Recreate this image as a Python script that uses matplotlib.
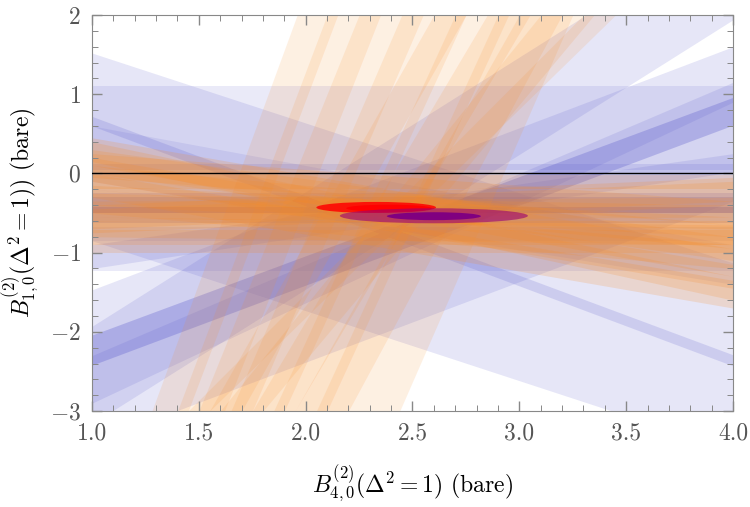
import matplotlib
matplotlib.use("Agg")
import matplotlib.pyplot as plt
from matplotlib.patches import Ellipse
import numpy as np

plt.rcParams['font.family'] = 'serif'
plt.rcParams['font.serif'] = ['cmr10', 'DejaVu Serif']
plt.rcParams['mathtext.fontset'] = 'cm'
plt.rcParams['axes.formatter.use_mathtext'] = True

# band edges at x = 1 and x = 4: (lower@1, upper@1, lower@4, upper@4)
blueBands = [
    (-1.23, 1.10, -1.23, 1.10),
    (-0.50, -0.43, -0.50, -0.43),
    (0.60, 0.72, -2.43, -2.29),
    (-0.85, 1.52, -3.50, -1.13),
    (-3.40, -1.47, -0.35, 1.60),
    (-3.16, -1.93, 1.94, 3.17),
    (-2.42, -2.04, 0.61, 0.96),
    (-2.90, -2.30, 0.90, 1.15),
    (-0.10, 0.60, -1.40, -0.90),
    (-1.20, -0.90, 0.02, 0.25),
    (-0.62, -0.30, -0.62, -0.30),
    (-0.42, -0.25, -0.42, -0.25),
    (0.04, 0.12, 0.04, 0.12),
    (-0.85, -0.68, -0.85, -0.68),
]
blueAlpha = [0.12, 0.5, 0.18, 0.15, 0.15, 0.15, 0.3, 0.15, 0.12, 0.15, 0.25, 0.2, 0.15, 0.12]

orangeBands = [
    (0.10, 0.45, -1.30, -0.95),
    (0.00, 0.30, -1.10, -0.80),
    (-0.10, 0.20, -1.45, -1.15),
    (-0.20, 0.10, -0.95, -0.65),
    (-0.30, 0.00, -1.70, -1.35),
    (-0.40, -0.15, -0.80, -0.55),
    (-0.55, -0.25, -0.70, -0.40),
    (-0.60, -0.35, -0.55, -0.30),
    (-0.75, -0.45, -0.40, -0.10),
    (-0.50, -0.20, -1.20, -0.90),
    (-0.70, -0.40, -0.35, -0.05),
    (-0.05, 0.25, -0.65, -0.35),
    (-0.80, -0.55, -0.90, -0.65),
    (0.15, 0.40, -1.60, -1.30),
    (-1.00, -0.72, -1.00, -0.72),
    (-0.20, -0.02, -0.20, -0.02),
    (-0.90, -0.60, -0.90, -0.60),
]

# steep bands, edges given as x at y = -3 and x at y = 2: (lower@-3, upper@-3, lower@2, upper@2)
steepBands = [
    (1.28, 1.45, 1.96, 2.15),
    (1.40, 1.62, 2.10, 2.35),
    (1.50, 1.75, 2.25, 2.55),
    (1.55, 1.70, 2.60, 2.75),
    (1.65, 1.90, 2.45, 2.75),
    (1.75, 1.95, 2.85, 3.05),
    (1.85, 2.10, 2.70, 2.95),
    (1.95, 2.20, 3.00, 3.20),
    (2.05, 2.44, 2.90, 3.25),
    (1.60, 1.80, 3.10, 3.35),
    (1.45, 1.55, 3.30, 3.45),
]

# fit ellipses: center x, center y, half width, half height
redFit = [(2.33, -0.43, 0.28, 0.07), (2.39, -0.44, 0.20, 0.045)]
purpleFit = [(2.60, -0.535, 0.44, 0.095), (2.60, -0.54, 0.22, 0.05)]

blue = (0.35, 0.35, 0.80)
orange = (0.97, 0.55, 0.15)

fig = plt.figure(figsize=(7.5, 5.07), dpi=100)
ax = fig.add_axes([0.1227, 0.1893, 0.8546, 0.7811])

xEnds = [1.0, 4.0]
yEnds = [-3.0, 2.0]
for band, a in zip(blueBands, blueAlpha):
    ax.fill_between(xEnds, [band[0], band[2]], [band[1], band[3]], color=blue, alpha=a, lw=0)

for band in steepBands:
    ax.fill_betweenx(yEnds, [band[0], band[2]], [band[1], band[3]], color=orange, alpha=0.13, lw=0)

for band in orangeBands:
    ax.fill_between(xEnds, [band[0], band[2]], [band[1], band[3]], color=orange, alpha=0.19, lw=0)

ax.axhline(0, color='black', lw=1.0, zorder=5)

for (cx, cy, w, h), a in zip(redFit, [0.85, 1.0]):
    ax.add_patch(Ellipse((cx, cy), 2 * w, 2 * h, color=(1.0, 0.0, 0.0), alpha=a, lw=0, zorder=6))
ax.add_patch(Ellipse((purpleFit[0][0], purpleFit[0][1]), 2 * purpleFit[0][2], 2 * purpleFit[0][3],
                     color=(0.6, 0.0, 0.45), alpha=0.6, lw=0, zorder=7))
ax.add_patch(Ellipse((purpleFit[1][0], purpleFit[1][1]), 2 * purpleFit[1][2], 2 * purpleFit[1][3],
                     color=(0.5, 0.0, 0.5), lw=0, zorder=8))

ax.set_xlim(1, 4)
ax.set_ylim(-3, 2)
ax.set_xticks(np.arange(1.0, 4.01, 0.5))
ax.set_xticklabels(['1.0', '1.5', '2.0', '2.5', '3.0', '3.5', '4.0'])
ax.set_yticks([-3, -2, -1, 0, 1, 2])
ax.set_yticklabels(['$-3$', '$-2$', '$-1$', '$0$', '$1$', '$2$'])
ax.set_xticks(np.arange(1.0, 4.01, 0.1), minor=True)
ax.set_yticks(np.arange(-3, 2.01, 0.2), minor=True)
ax.tick_params(which='both', direction='in', top=True, right=True, color='#888888', labelcolor='#555555',
               labelsize=17, pad=8)
ax.tick_params(which='major', length=7, width=1.0)
ax.tick_params(which='minor', length=4, width=0.7)
for s in ax.spines.values():
    s.set_color('#888888')

ax.set_xlabel(r'$B^{(2)}_{4,0}(\Delta^2=1)$ (bare)', fontsize=17, labelpad=14)
ax.set_ylabel(r'$B^{(2)}_{1,0}(\Delta^2=1))$ (bare)', fontsize=17, labelpad=6)

fig.savefig('out.png', dpi=100)
